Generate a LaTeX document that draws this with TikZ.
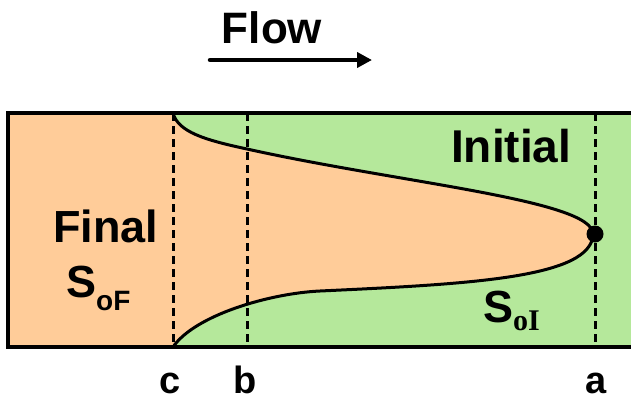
\documentclass[tikz,border=0pt]{standalone}
\usepackage{fontspec}
\setmainfont{Liberation Sans}
\newfontfamily\serifb{Liberation Serif}
\usetikzlibrary{arrows.meta}
\definecolor{peach}{HTML}{FFCC99}
\definecolor{lgreen}{HTML}{B5E89B}
\begin{document}
\begin{tikzpicture}[x=1pt,y=-1pt,
  lbl/.style={inner sep=0pt, font=\bfseries\fontsize{#1}{#1}\selectfont},
  vline/.style={line width=3pt, dash pattern=on 8pt off 5pt},
  border/.style={line width=3.2pt},
  front/.style={line width=3pt}]
\useasboundingbox (0,0) rectangle (631,405);
\def\frontpath{(173,113) .. controls (178,132) and (205,140) .. (247,149)
  .. controls (400,183) and (593,200) .. (593,234)
  .. controls (592,278) and (470,284) .. (320,291)
  .. controls (270,293.3) and (195,315) .. (173,347)}
% regions
\fill[lgreen] (173,113) rectangle (640,347);
\fill[peach] (8,113) rectangle (173,347);
\fill[peach] \frontpath -- cycle;
% dashed positions
\coordinate (ct) at (173,113); \coordinate (cb) at (173,347);
\coordinate (bt) at (247,113); \coordinate (bb) at (247,347);
\coordinate (at) at (595,113); \coordinate (ab) at (595,347);
\draw[vline] (ct) -- (cb);
\draw[vline] (bt) -- (bb);
\draw[vline] (at) -- (ab);
% front curve
\draw[front] \frontpath;
% border
\draw[border] (640,113) -- (8,113) -- (8,347) -- (640,347);
% dot
\node[circle, fill=black, inner sep=0pt, minimum size=17pt] (dot) at (595,234) {};
% labels
\node[lbl=44, anchor=base] (flow) at (272,43) {Flow};
\coordinate (fs) at (210,60); \coordinate (fe) at (372,60);
\draw[line width=4.5pt, line cap=round, -{Triangle[length=15pt,width=15pt]}] (fs) -- (fe);
\node[lbl=45, anchor=base west] (final) at (53,242) {Final};
\node[lbl=45, anchor=base west] (sof) at (66,297) {S\raisebox{-13pt}{\fontsize{28}{28}\selectfont oF}};
\node[lbl=46, anchor=base west] (init) at (451,162) {Initial};
\node[lbl=45, anchor=base west] (soi) at (483,322) {S\raisebox{-8pt}{\serifb\bfseries\fontsize{30}{30}\selectfont oI}};
\node[lbl=38, anchor=base] (c) at (170,393) {c};
\node[lbl=38, anchor=base] (b) at (245,393) {b};
\node[lbl=38, anchor=base] (a) at (596,393) {a};
\end{tikzpicture}
\end{document}
